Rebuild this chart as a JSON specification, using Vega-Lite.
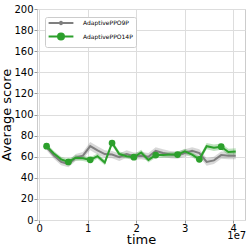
{
  "$schema": "https://vega.github.io/schema/vega-lite/v6.json",
  "autosize": {"type": "none"},
  "padding": {"left": 37, "top": 9, "right": 4, "bottom": 29},
  "width": 208,
  "height": 211,
  "config": {
    "font": "DejaVu Sans",
    "view": {"stroke": "#cccccc", "strokeWidth": 1},
    "axis": {
      "domain": false,
      "gridColor": "#dddddd",
      "gridWidth": 1,
      "tickColor": "#999999",
      "tickSize": 3,
      "labelFontSize": 10,
      "labelColor": "#000000",
      "labelPadding": 1,
      "labelOverlap": false,
      "titleFontSize": 13,
      "titleFontWeight": "normal",
      "titleColor": "#000000"
    },
    "axisX": {"values": [0, 10000000, 20000000, 30000000, 40000000], "tickCount": 5, "labelExpr": "datum.value / 10000000", "titlePadding": 0, "labelPadding": 0, "labelFlush": false},
    "axisY": {"values": [0, 25, 50, 75, 100, 125, 150, 175, 200], "tickCount": 12, "titlePadding": 0}
  },
  "datasets": {
    "note": [{"label": "1e7", "t": 40700000, "v": -15.5}]
  },
  "data": {
    "values": [
      {"series": "AdaptivePPO9P", "t": 1500000, "mean": 69, "lo": 66, "hi": 72},
      {"series": "AdaptivePPO9P", "t": 3000000, "mean": 61, "lo": 58, "hi": 64},
      {"series": "AdaptivePPO9P", "t": 4500000, "mean": 55, "lo": 52, "hi": 58.5},
      {"series": "AdaptivePPO9P", "t": 6000000, "mean": 53, "lo": 50, "hi": 56},
      {"series": "AdaptivePPO9P", "t": 7500000, "mean": 59, "lo": 56, "hi": 62.5},
      {"series": "AdaptivePPO9P", "t": 9000000, "mean": 61, "lo": 57.5, "hi": 64.5},
      {"series": "AdaptivePPO9P", "t": 10500000, "mean": 70, "lo": 66, "hi": 74},
      {"series": "AdaptivePPO9P", "t": 12000000, "mean": 66, "lo": 62, "hi": 70},
      {"series": "AdaptivePPO9P", "t": 13500000, "mean": 62.5, "lo": 59, "hi": 66},
      {"series": "AdaptivePPO9P", "t": 15000000, "mean": 62, "lo": 58.5, "hi": 65.5},
      {"series": "AdaptivePPO9P", "t": 16500000, "mean": 59.5, "lo": 56, "hi": 63},
      {"series": "AdaptivePPO9P", "t": 18000000, "mean": 62.5, "lo": 59, "hi": 66},
      {"series": "AdaptivePPO9P", "t": 19500000, "mean": 60.5, "lo": 57, "hi": 64},
      {"series": "AdaptivePPO9P", "t": 21000000, "mean": 61, "lo": 57.5, "hi": 64.5},
      {"series": "AdaptivePPO9P", "t": 22500000, "mean": 60, "lo": 56.5, "hi": 63.5},
      {"series": "AdaptivePPO9P", "t": 24000000, "mean": 65.5, "lo": 62, "hi": 69},
      {"series": "AdaptivePPO9P", "t": 25500000, "mean": 63.5, "lo": 60, "hi": 67},
      {"series": "AdaptivePPO9P", "t": 27000000, "mean": 62, "lo": 58.5, "hi": 65.5},
      {"series": "AdaptivePPO9P", "t": 28500000, "mean": 61.5, "lo": 58, "hi": 65},
      {"series": "AdaptivePPO9P", "t": 30000000, "mean": 63.5, "lo": 60, "hi": 67},
      {"series": "AdaptivePPO9P", "t": 31500000, "mean": 65.5, "lo": 62, "hi": 69},
      {"series": "AdaptivePPO9P", "t": 33000000, "mean": 63.5, "lo": 60, "hi": 67},
      {"series": "AdaptivePPO9P", "t": 34500000, "mean": 55, "lo": 51.5, "hi": 58.5},
      {"series": "AdaptivePPO9P", "t": 36000000, "mean": 56.5, "lo": 53, "hi": 60},
      {"series": "AdaptivePPO9P", "t": 37500000, "mean": 61.5, "lo": 58, "hi": 65},
      {"series": "AdaptivePPO9P", "t": 39000000, "mean": 61, "lo": 57.5, "hi": 64.5},
      {"series": "AdaptivePPO9P", "t": 40500000, "mean": 61, "lo": 57.5, "hi": 64.5},
      {"series": "AdaptivePPO14P", "t": 1500000, "mean": 70, "lo": 67.5, "hi": 72.5},
      {"series": "AdaptivePPO14P", "t": 3000000, "mean": 63, "lo": 60.5, "hi": 65.5},
      {"series": "AdaptivePPO14P", "t": 4500000, "mean": 57.5, "lo": 55, "hi": 60},
      {"series": "AdaptivePPO14P", "t": 6000000, "mean": 55, "lo": 52.5, "hi": 57.5},
      {"series": "AdaptivePPO14P", "t": 7500000, "mean": 59, "lo": 56.5, "hi": 61.5},
      {"series": "AdaptivePPO14P", "t": 9000000, "mean": 58.5, "lo": 56, "hi": 61},
      {"series": "AdaptivePPO14P", "t": 10500000, "mean": 57, "lo": 54.5, "hi": 59.5},
      {"series": "AdaptivePPO14P", "t": 12000000, "mean": 60.5, "lo": 58, "hi": 63},
      {"series": "AdaptivePPO14P", "t": 13500000, "mean": 54.5, "lo": 52, "hi": 57},
      {"series": "AdaptivePPO14P", "t": 15000000, "mean": 73, "lo": 70.5, "hi": 75.5},
      {"series": "AdaptivePPO14P", "t": 16500000, "mean": 62.5, "lo": 60, "hi": 65},
      {"series": "AdaptivePPO14P", "t": 18000000, "mean": 60.5, "lo": 58, "hi": 63},
      {"series": "AdaptivePPO14P", "t": 19500000, "mean": 59.5, "lo": 57, "hi": 62},
      {"series": "AdaptivePPO14P", "t": 21000000, "mean": 64, "lo": 61.5, "hi": 66.5},
      {"series": "AdaptivePPO14P", "t": 22500000, "mean": 57, "lo": 54.5, "hi": 59.5},
      {"series": "AdaptivePPO14P", "t": 24000000, "mean": 61.5, "lo": 59, "hi": 64},
      {"series": "AdaptivePPO14P", "t": 25500000, "mean": 61.5, "lo": 59, "hi": 64},
      {"series": "AdaptivePPO14P", "t": 27000000, "mean": 62, "lo": 59.5, "hi": 64.5},
      {"series": "AdaptivePPO14P", "t": 28500000, "mean": 62, "lo": 59.5, "hi": 64.5},
      {"series": "AdaptivePPO14P", "t": 30000000, "mean": 65, "lo": 62.5, "hi": 67.5},
      {"series": "AdaptivePPO14P", "t": 31500000, "mean": 62, "lo": 59.5, "hi": 64.5},
      {"series": "AdaptivePPO14P", "t": 33000000, "mean": 57.5, "lo": 55, "hi": 60},
      {"series": "AdaptivePPO14P", "t": 34500000, "mean": 70, "lo": 67, "hi": 73},
      {"series": "AdaptivePPO14P", "t": 36000000, "mean": 68.5, "lo": 65.5, "hi": 71.5},
      {"series": "AdaptivePPO14P", "t": 37500000, "mean": 69.5, "lo": 66.5, "hi": 72.5},
      {"series": "AdaptivePPO14P", "t": 39000000, "mean": 64.5, "lo": 61.5, "hi": 67.5},
      {"series": "AdaptivePPO14P", "t": 40500000, "mean": 65, "lo": 62, "hi": 68}
    ]
  },
  "encoding": {
    "x": {
      "field": "t", "type": "quantitative",
      "scale": {"domain": [-474000, 42410000], "nice": false, "zero": false},
      "axis": {"title": "time"}
    },
    "y": {
      "field": "mean", "type": "quantitative",
      "scale": {"domain": [0, 200], "nice": false},
      "axis": {"title": "Average score"}
    },
    "color": {
      "field": "series", "type": "nominal",
      "scale": {"domain": ["AdaptivePPO9P", "AdaptivePPO14P"], "range": ["#7f7f7f", "#2ca02c"]},
      "legend": {
        "orient": "top-left",
        "offset": 8,
        "title": null,
        "symbolType": "M-6.2,0L6.2,0",
        "symbolSize": 16,
        "symbolStrokeWidth": 2,
        "symbolOffset": 10,
        "labelOffset": 19,
        "labelFontSize": 6,
        "labelColor": "#000000",
        "rowPadding": 0.5,
        "padding": 3,
        "strokeColor": "#cccccc",
        "fillColor": "#ffffff",
        "cornerRadius": 2,
        "encode": {
          "symbols": {
            "update": {
              "shape": {"signal": "datum.value === 'AdaptivePPO14P' ? 'M-6.2,0L6.2,0M-1.5,0A1.5,1.5,0,1,0,1.5,0A1.5,1.5,0,1,0,-1.5,0Z' : 'M-6.2,0L6.2,0M-0.6,0A0.6,0.6,0,1,0,0.6,0A0.6,0.6,0,1,0,-0.6,0Z'"},
              "fill": {"signal": "scale('color', datum.value)"},
              "opacity": {"value": 1}
            }
          }
        }
      }
    }
  },
  "layer": [
    {
      "mark": {"type": "area", "opacity": 0.3},
      "encoding": {
        "y": {"field": "lo", "type": "quantitative", "axis": {"title": "Average score"}},
        "y2": {"field": "hi"}
      }
    },
    {
      "mark": {"type": "line", "strokeWidth": 2}
    },
    {
      "transform": [
        {"filter": "datum.series === 'AdaptivePPO14P' && (datum.t - 1500000) % 4500000 === 0"}
      ],
      "mark": {"type": "point", "filled": true, "size": 45, "opacity": 1}
    },
    {
      "data": {"name": "note"},
      "mark": {"type": "text", "fontSize": 10, "color": "#000000", "clip": false},
      "encoding": {
        "y": {"field": "v", "type": "quantitative", "axis": {"title": "Average score"}},
        "text": {"field": "label"},
        "color": {"value": "#000000"}
      }
    }
  ]
}
